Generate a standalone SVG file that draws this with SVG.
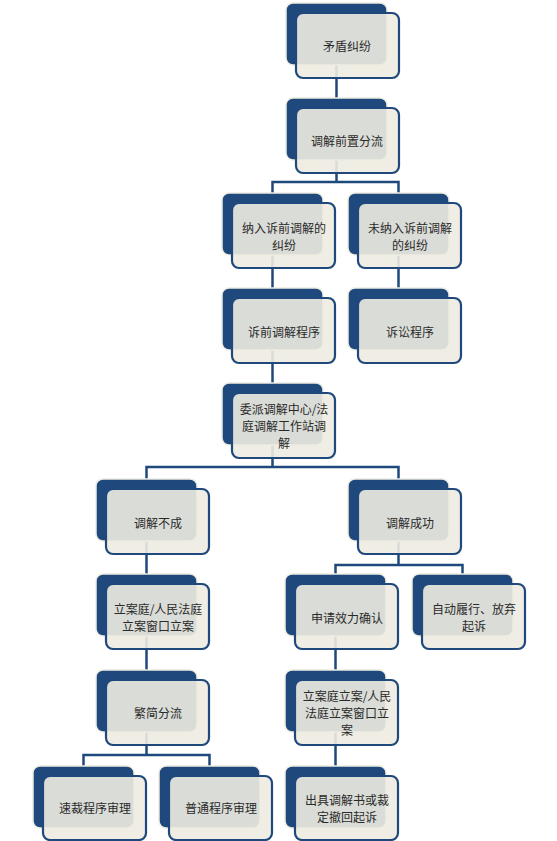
<svg xmlns="http://www.w3.org/2000/svg" width="557" height="841" viewBox="0 0 557 841">
<style>
.bk{fill:#1f497d;stroke:#eeece1;stroke-width:1.5}
.fr{fill:#eeece1;fill-opacity:0.9;stroke:#1f497d;stroke-width:2.2}
.ln{fill:none;stroke:#1f497d;stroke-width:2.5}
text{font-family:"Noto Sans CJK SC","Noto Sans",sans-serif;font-size:12px;fill:#2a2a2a;text-anchor:middle;dominant-baseline:central}
</style>
<rect width="557" height="841" fill="#ffffff"/>
<g id="connectors">
<path class="ln" d="M336.5 60 V98"/>
<path class="ln" d="M336.5 155 V182 M272.5 193 V182 H398.5 V193"/>
<path class="ln" d="M272.5 250 V288 M398.5 250 V288"/>
<path class="ln" d="M272.5 345 V383"/>
<path class="ln" d="M272.5 440 V467 M146.5 479 V467 H398.5 V479"/>
<path class="ln" d="M146.5 536 V574"/>
<path class="ln" d="M398.5 536 V565 M335.5 574 V565 H462.5 V574"/>
<path class="ln" d="M146.5 632 V670 M335.5 632 V670"/>
<path class="ln" d="M146.5 728 V755 M83.5 766 V755 H209.5 V766"/>
<path class="ln" d="M335.5 728 V766"/>
</g>
<g id="n1"><rect class="bk" x="286" y="3" width="101" height="62" rx="7"/><rect class="fr" x="296" y="13" width="103" height="65" rx="7"/><text x="347" y="45">矛盾纠纷</text></g>
<g id="n2"><rect class="bk" x="286" y="98" width="101" height="62" rx="7"/><rect class="fr" x="296" y="108" width="103" height="65" rx="7"/><text x="347" y="140">调解前置分流</text></g>
<g id="n3a"><rect class="bk" x="222" y="193" width="101" height="62" rx="7"/><rect class="fr" x="232" y="203" width="103" height="65" rx="7"/><text x="284" y="227">纳入诉前调解的</text><text x="284" y="244">纠纷</text></g>
<g id="n3b"><rect class="bk" x="348" y="193" width="101" height="62" rx="7"/><rect class="fr" x="358" y="203" width="103" height="65" rx="7"/><text x="410" y="227">未纳入诉前调解</text><text x="410" y="244">的纠纷</text></g>
<g id="n4a"><rect class="bk" x="222" y="288" width="101" height="62" rx="7"/><rect class="fr" x="232" y="298" width="103" height="65" rx="7"/><text x="284" y="331">诉前调解程序</text></g>
<g id="n4b"><rect class="bk" x="348" y="288" width="101" height="62" rx="7"/><rect class="fr" x="358" y="298" width="103" height="65" rx="7"/><text x="410" y="331">诉讼程序</text></g>
<g id="n5"><rect class="bk" x="222" y="383" width="101" height="62" rx="7"/><rect class="fr" x="232" y="393" width="103" height="65" rx="7"/><text x="284" y="408">委派调解中心/法</text><text x="284" y="425">庭调解工作站调</text><text x="284" y="442">解</text></g>
<g id="n6a"><rect class="bk" x="96" y="479" width="101" height="62" rx="7"/><rect class="fr" x="106" y="489" width="103" height="65" rx="7"/><text x="158" y="522">调解不成</text></g>
<g id="n6b"><rect class="bk" x="348" y="479" width="101" height="62" rx="7"/><rect class="fr" x="358" y="489" width="103" height="65" rx="7"/><text x="410" y="522">调解成功</text></g>
<g id="n7a"><rect class="bk" x="96" y="574" width="101" height="62" rx="7"/><rect class="fr" x="106" y="584" width="103" height="65" rx="7"/><text x="158" y="608">立案庭/人民法庭</text><text x="158" y="625">立案窗口立案</text></g>
<g id="n7b"><rect class="bk" x="285" y="574" width="101" height="62" rx="7"/><rect class="fr" x="295" y="584" width="103" height="65" rx="7"/><text x="347" y="617">申请效力确认</text></g>
<g id="n7c"><rect class="bk" x="412" y="574" width="101" height="62" rx="7"/><rect class="fr" x="422" y="584" width="103" height="65" rx="7"/><text x="474" y="608">自动履行、放弃</text><text x="474" y="625">起诉</text></g>
<g id="n8a"><rect class="bk" x="96" y="670" width="101" height="62" rx="7"/><rect class="fr" x="106" y="680" width="103" height="65" rx="7"/><text x="158" y="712">繁简分流</text></g>
<g id="n8b"><rect class="bk" x="285" y="670" width="101" height="62" rx="7"/><rect class="fr" x="295" y="680" width="103" height="65" rx="7"/><text x="347" y="695">立案庭立案/人民</text><text x="347" y="712">法庭立案窗口立</text><text x="347" y="729">案</text></g>
<g id="n9a"><rect class="bk" x="33" y="766" width="101" height="62" rx="7"/><rect class="fr" x="43" y="776" width="103" height="64" rx="7"/><text x="95" y="807">速裁程序审理</text></g>
<g id="n9b"><rect class="bk" x="159" y="766" width="101" height="62" rx="7"/><rect class="fr" x="169" y="776" width="103" height="64" rx="7"/><text x="221" y="807">普通程序审理</text></g>
<g id="n9c"><rect class="bk" x="285" y="766" width="101" height="62" rx="7"/><rect class="fr" x="295" y="776" width="103" height="64" rx="7"/><text x="347" y="799">出具调解书或裁</text><text x="347" y="816">定撤回起诉</text></g>
</svg>
